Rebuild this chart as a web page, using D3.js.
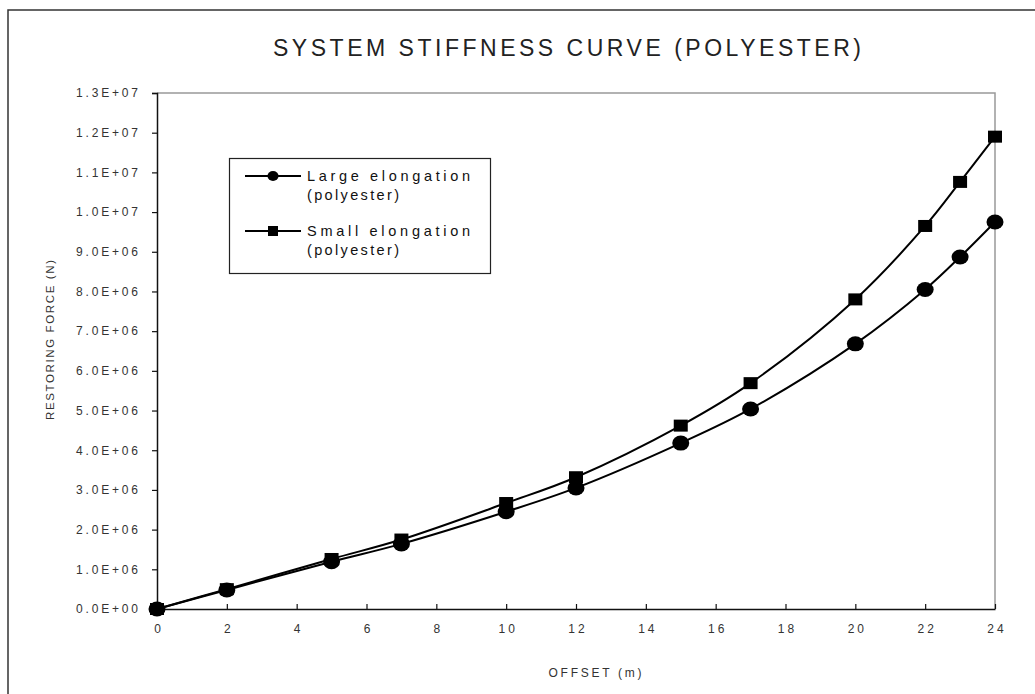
<!DOCTYPE html>
<html>
<head>
<meta charset="utf-8">
<script src="https://cdn.jsdelivr.net/npm/d3@7"></script>
<style>
  html, body { margin: 0; padding: 0; background: #fff; }
  svg { display: block; font-family: "Liberation Sans", Arial, sans-serif; }
</style>
</head>
<body>
<svg id="chart" width="1035" height="694"></svg>
<script>
// Offsets (m) at which the restoring force was evaluated
const offsets = [0, 2, 5, 7, 10, 12, 15, 17, 20, 22, 23, 24];
// Restoring force (N), large-elongation polyester model
const largeElongation = [0, 4.8e5, 1.19e6, 1.64e6, 2.45e6, 3.05e6, 4.18e6, 5.04e6, 6.68e6, 8.05e6, 8.87e6, 9.75e6];
// Restoring force (N), small-elongation polyester model
const smallElongation = [0, 5.0e5, 1.26e6, 1.75e6, 2.67e6, 3.32e6, 4.62e6, 5.69e6, 7.8e6, 9.65e6, 10.76e6, 11.9e6];

const seriesNames = ["Large elongation", "Small elongation"];
const seriesSub = "(polyester)";
const xTicks = [0, 2, 4, 6, 8, 10, 12, 14, 16, 18, 20, 22, 24];
const yTicks = d3.range(0, 14).map(i => i * 1e6);
const yTickLabel = v => {
  if (v === 0) return "0.0E+00";
  const e = Math.floor(Math.log10(v));
  const m = v / Math.pow(10, e);
  return m.toFixed(1) + "E+" + String(e).padStart(2, "0");
};

const svg = d3.select("#chart");
const margin = { left: 157, right: 995, top: 93, bottom: 609 };

const x = d3.scaleLinear().domain([0, 24]).range([margin.left, margin.right]);
const y = d3.scaleLinear().domain([0, 1.3e7]).range([margin.bottom, margin.top]);

// outer frame (runs off the right and bottom edges)
svg.append("path")
  .attr("d", "M8,700 L8,10 L1040,10")
  .attr("fill", "none").attr("stroke", "#333").attr("stroke-width", 1.5);

// title
svg.append("text")
  .attr("x", 567).attr("y", 56)
  .attr("text-anchor", "middle")
  .attr("font-family", "'Liberation Sans Narrow', 'Liberation Sans', Arial, sans-serif")
  .attr("font-size", 23)
  .attr("fill", "#222")
  .attr("textLength", 588).attr("lengthAdjust", "spacing")
  .text("SYSTEM STIFFNESS CURVE (POLYESTER)");

// plot frame: grey top/right edges
svg.append("path")
  .attr("d", `M${margin.left},${margin.top} L${margin.right},${margin.top} L${margin.right},${margin.bottom}`)
  .attr("fill", "none").attr("stroke", "#999").attr("stroke-width", 1.5);

// y axis
const yAxis = svg.append("g")
  .attr("transform", `translate(${margin.left},0)`)
  .call(d3.axisLeft(y).tickValues(yTicks).tickFormat(yTickLabel).tickSize(5).tickPadding(14));
yAxis.select(".domain").attr("stroke", "#111").attr("stroke-width", 1.5);
yAxis.selectAll(".tick line").attr("stroke", "#111").attr("stroke-width", 1.2);
yAxis.selectAll(".tick text")
  .attr("font-size", 12).attr("fill", "#333")
  .attr("font-family", "Liberation Sans, Arial, sans-serif")
  .attr("textLength", 62).attr("lengthAdjust", "spacing");

// x axis (ticks point into the plot)
const xAxis = svg.append("g")
  .attr("transform", `translate(0,${margin.bottom})`)
  .call(d3.axisBottom(x).tickValues(xTicks).tickFormat(d3.format("d")).tickSizeInner(-5).tickSizeOuter(0).tickPadding(15));
xAxis.select(".domain").attr("stroke", "#111").attr("stroke-width", 1.5);
xAxis.selectAll(".tick line").attr("stroke", "#111").attr("stroke-width", 1.2);
xAxis.selectAll(".tick text")
  .attr("font-size", 12).attr("fill", "#333")
  .attr("font-family", "Liberation Sans, Arial, sans-serif")
  .style("letter-spacing", "3px")
  .attr("dx", 1.5);

// axis titles
svg.append("text")
  .attr("x", 595).attr("y", 677)
  .attr("text-anchor", "middle")
  .attr("font-size", 12).attr("fill", "#333")
  .attr("textLength", 93).attr("lengthAdjust", "spacing")
  .text("OFFSET (m)");

svg.append("text")
  .attr("transform", "translate(54,340) rotate(-90)")
  .attr("text-anchor", "middle")
  .attr("font-size", 11.5).attr("fill", "#333")
  .attr("textLength", 160).attr("lengthAdjust", "spacing")
  .text("RESTORING FORCE (N)");

// curves
const line = d3.line()
  .x(d => x(d[0]))
  .y(d => y(d[1]))
  .curve(d3.curveCatmullRom.alpha(0.5));

const largePts = offsets.map((o, i) => [o, largeElongation[i]]);
const smallPts = offsets.map((o, i) => [o, smallElongation[i]]);

svg.append("path").datum(smallPts)
  .attr("d", line).attr("fill", "none").attr("stroke", "#000").attr("stroke-width", 2);
svg.append("path").datum(largePts)
  .attr("d", line).attr("fill", "none").attr("stroke", "#000").attr("stroke-width", 2);

// markers
svg.append("g").selectAll("rect").data(smallPts).join("rect")
  .attr("x", d => x(d[0]) - 7).attr("y", d => y(d[1]) - 6)
  .attr("width", 14).attr("height", 12).attr("fill", "#000");
svg.append("g").selectAll("ellipse").data(largePts).join("ellipse")
  .attr("cx", d => x(d[0])).attr("cy", d => y(d[1]))
  .attr("rx", 8.5).attr("ry", 7.5).attr("fill", "#000");

// legend
const lg = svg.append("g");
lg.append("rect")
  .attr("x", 229.5).attr("y", 158.5).attr("width", 261).attr("height", 115)
  .attr("fill", "#fff").attr("stroke", "#222").attr("stroke-width", 1.2);

const legendRows = [
  { name: seriesNames[0], cy: 176, marker: "circle" },
  { name: seriesNames[1], cy: 231, marker: "square" }
];
legendRows.forEach(r => {
  lg.append("line").attr("x1", 245).attr("x2", 301).attr("y1", r.cy).attr("y2", r.cy)
    .attr("stroke", "#000").attr("stroke-width", 2);
  if (r.marker === "circle") {
    lg.append("ellipse").attr("cx", 273).attr("cy", r.cy).attr("rx", 5.5).attr("ry", 5).attr("fill", "#000");
  } else {
    lg.append("rect").attr("x", 268).attr("y", r.cy - 5).attr("width", 10).attr("height", 10).attr("fill", "#000");
  }
  lg.append("text").attr("x", 307).attr("y", r.cy + 5)
    .attr("font-size", 14.5).attr("fill", "#111")
    .attr("textLength", 163).attr("lengthAdjust", "spacing")
    .text(r.name);
  lg.append("text").attr("x", 307).attr("y", r.cy + 24)
    .attr("font-size", 14.5).attr("fill", "#111")
    .attr("textLength", 92).attr("lengthAdjust", "spacing")
    .text(seriesSub);
});
</script>
</body>
</html>
